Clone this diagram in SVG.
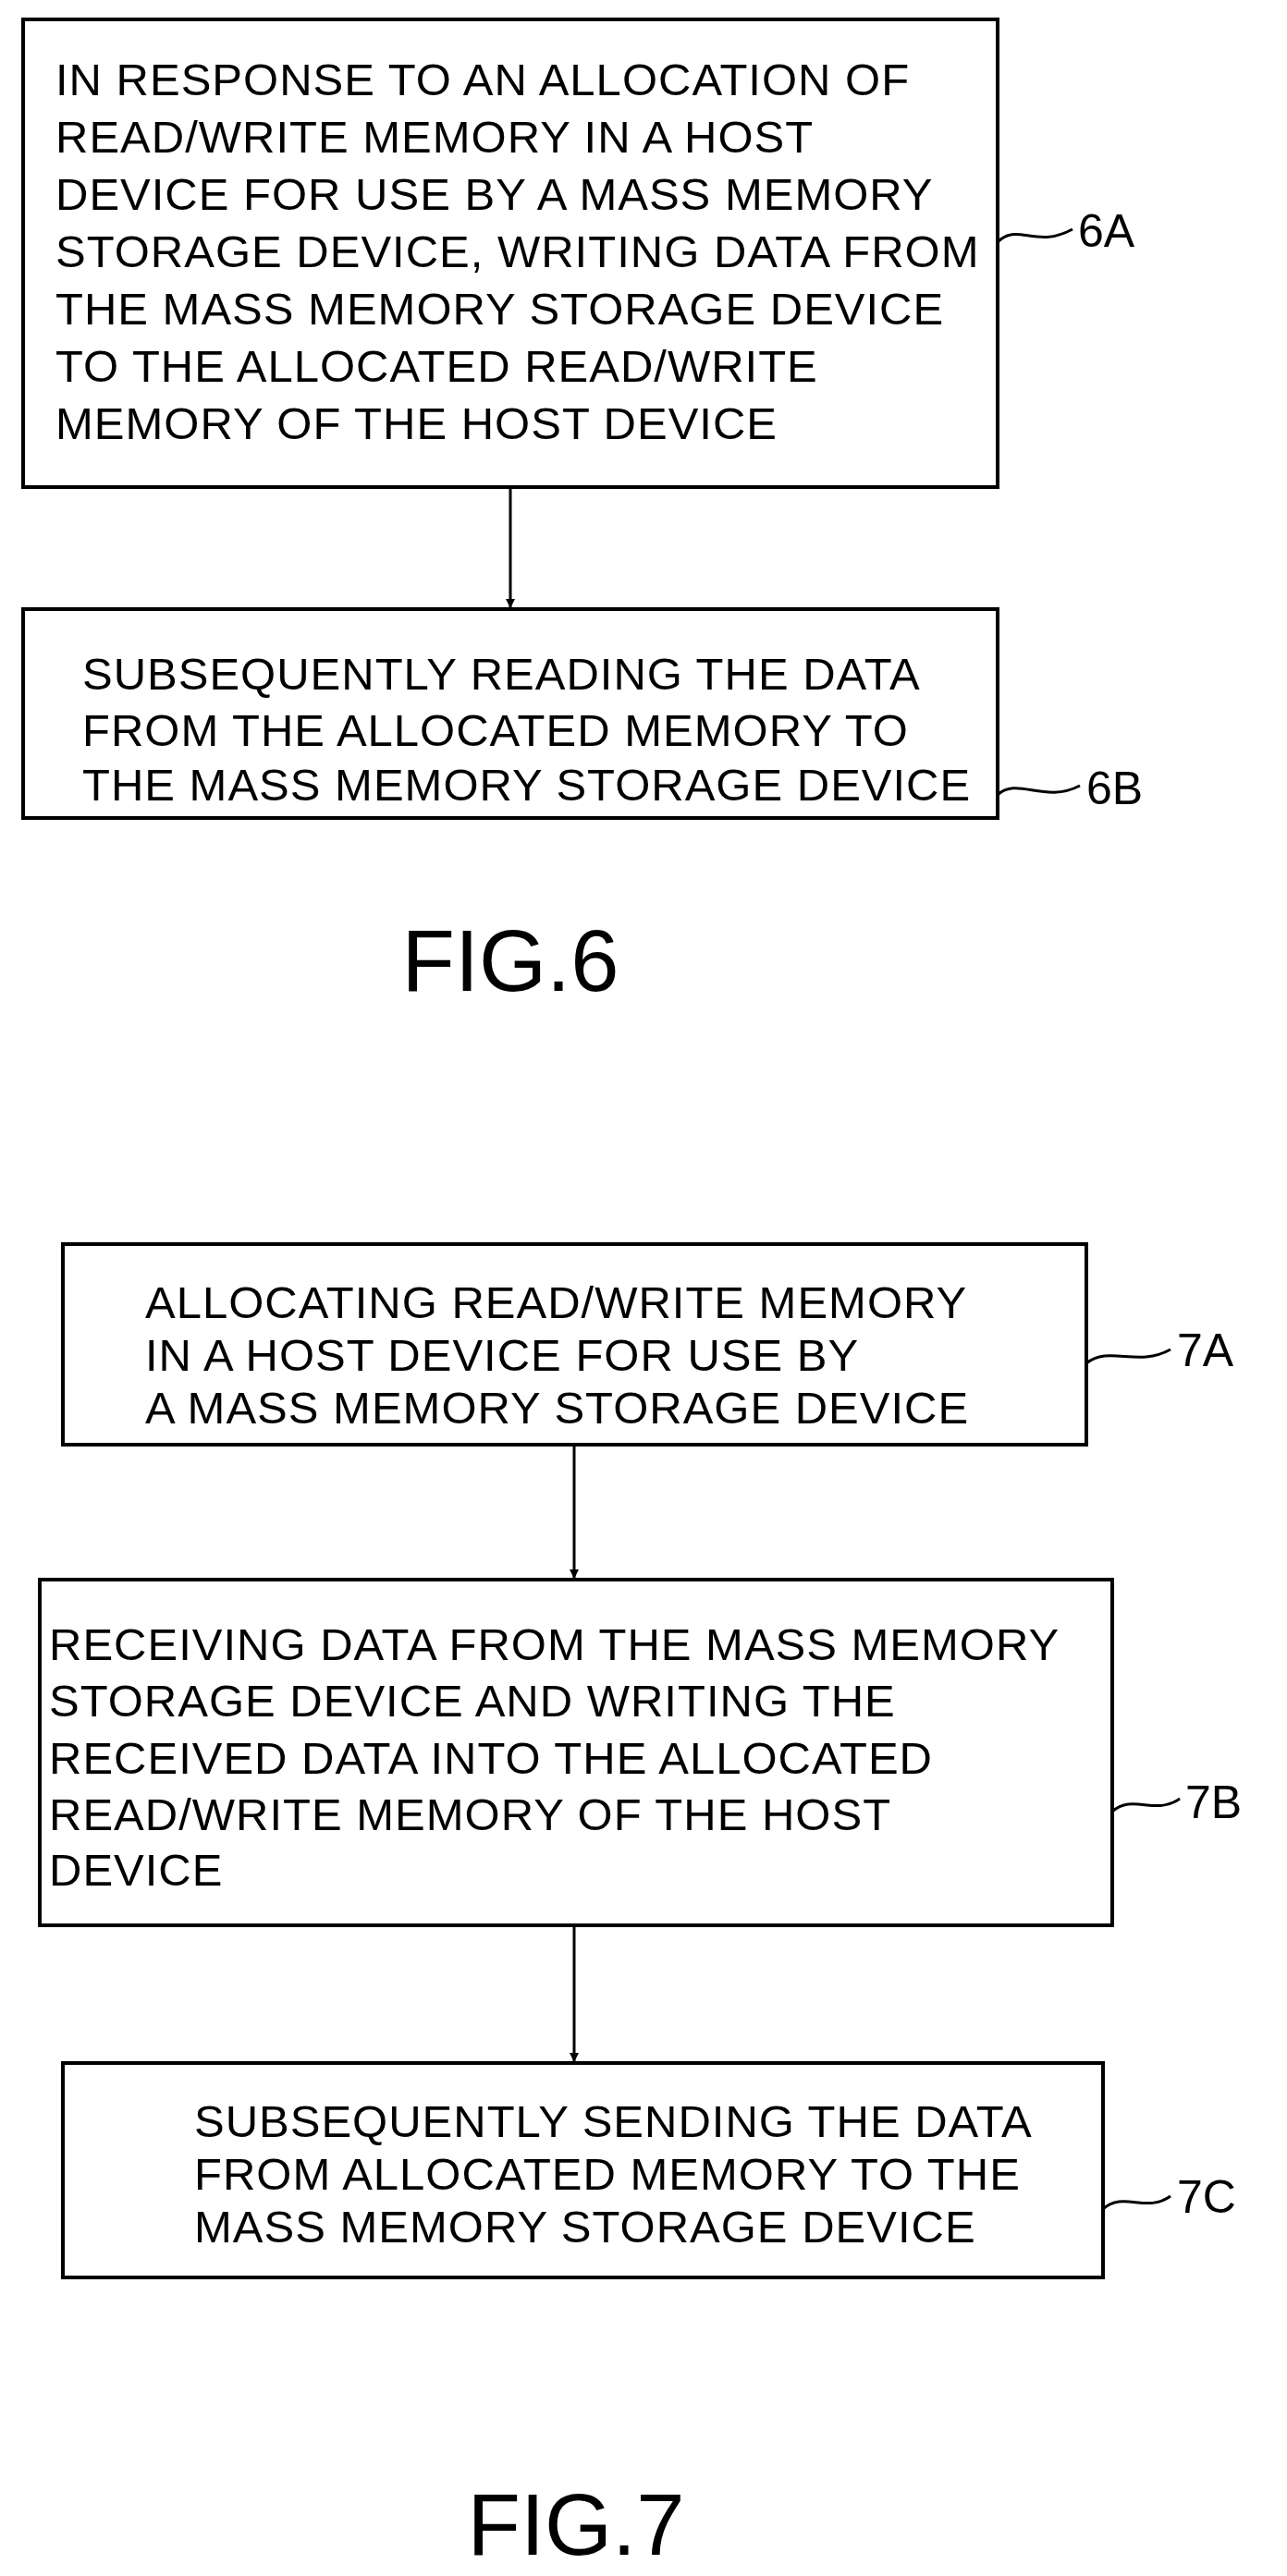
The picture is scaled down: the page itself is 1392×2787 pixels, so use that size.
<svg xmlns="http://www.w3.org/2000/svg" width="1392" height="2787" viewBox="0 0 1392 2787">
<style>
.b{fill:#fff;stroke:#000;stroke-width:4}
.t{font-family:"Liberation Sans",Arial,sans-serif;font-size:49px;letter-spacing:1px;fill:#000}
.l{font-family:"Liberation Sans",Arial,sans-serif;font-size:50px;fill:#000}
.f{font-family:"Liberation Sans",Arial,sans-serif;font-size:94px;fill:#000}
.c{fill:none;stroke:#000;stroke-width:3}
</style>
<defs><marker id="a" markerWidth="10" markerHeight="10" refX="9" refY="5" orient="auto" markerUnits="userSpaceOnUse"><path d="M0,0L10,5L0,10z" fill="#000"/></marker></defs>
<rect width="1392" height="2787" fill="#fff"/>
<g id="n6A"><rect class="b" x="25" y="21" width="1054" height="506"/>
<text class="t" x="60" y="103">IN RESPONSE TO AN ALLOCATION OF</text>
<text class="t" x="60" y="165">READ/WRITE MEMORY IN A HOST</text>
<text class="t" x="60" y="227">DEVICE FOR USE BY A MASS MEMORY</text>
<text class="t" x="60" y="289">STORAGE DEVICE, WRITING DATA FROM</text>
<text class="t" x="60" y="351">THE MASS MEMORY STORAGE DEVICE</text>
<text class="t" x="60" y="413">TO THE ALLOCATED READ/WRITE</text>
<text class="t" x="60" y="475">MEMORY OF THE HOST DEVICE</text>
<text class="l" x="1166" y="267">6A</text></g>
<g id="n6B"><rect class="b" x="25" y="659" width="1054" height="226"/>
<text class="t" x="89" y="746">SUBSEQUENTLY READING THE DATA</text>
<text class="t" x="89" y="807">FROM THE ALLOCATED MEMORY TO</text>
<text class="t" x="89" y="866">THE MASS MEMORY STORAGE DEVICE</text>
<text class="l" x="1175" y="870">6B</text></g>
<text class="f" x="552" y="1072" text-anchor="middle">FIG.6</text>
<g id="n7A"><rect class="b" x="68" y="1346" width="1107" height="217"/>
<text class="t" x="157" y="1426">ALLOCATING READ/WRITE MEMORY</text>
<text class="t" x="157" y="1483">IN A HOST DEVICE FOR USE BY</text>
<text class="t" x="157" y="1540">A MASS MEMORY STORAGE DEVICE</text>
<text class="l" x="1273" y="1478">7A</text></g>
<g id="n7B"><rect class="b" x="43" y="1709" width="1160" height="374"/>
<text class="t" x="53" y="1796">RECEIVING DATA FROM THE MASS MEMORY</text>
<text class="t" x="53" y="1857">STORAGE DEVICE AND WRITING THE</text>
<text class="t" x="53" y="1919">RECEIVED DATA INTO THE ALLOCATED</text>
<text class="t" x="53" y="1980">READ/WRITE MEMORY OF THE HOST</text>
<text class="t" x="53" y="2040">DEVICE</text>
<text class="l" x="1282" y="1967">7B</text></g>
<g id="n7C"><rect class="b" x="68" y="2232" width="1125" height="232"/>
<text class="t" x="210" y="2312">SUBSEQUENTLY SENDING THE DATA</text>
<text class="t" x="210" y="2369">FROM ALLOCATED MEMORY TO THE</text>
<text class="t" x="210" y="2426">MASS MEMORY STORAGE DEVICE</text>
<text class="l" x="1273" y="2394">7C</text></g>
<text class="f" x="623" y="2764" text-anchor="middle">FIG.7</text>
<g id="connectors">
<path class="c" d="M552,527V657" marker-end="url(#a)"/>
<path class="c" d="M621,1563V1707" marker-end="url(#a)"/>
<path class="c" d="M621,2083V2230" marker-end="url(#a)"/>
<path class="c" d="M1079,262C1100,240 1120,270 1160,248"/>
<path class="c" d="M1079,860C1100,840 1130,870 1168,850"/>
<path class="c" d="M1175,1475C1200,1455 1230,1480 1266,1460"/>
<path class="c" d="M1203,1960C1225,1940 1250,1965 1276,1946"/>
<path class="c" d="M1193,2390C1215,2370 1240,2395 1266,2376"/>
</g>
</svg>
